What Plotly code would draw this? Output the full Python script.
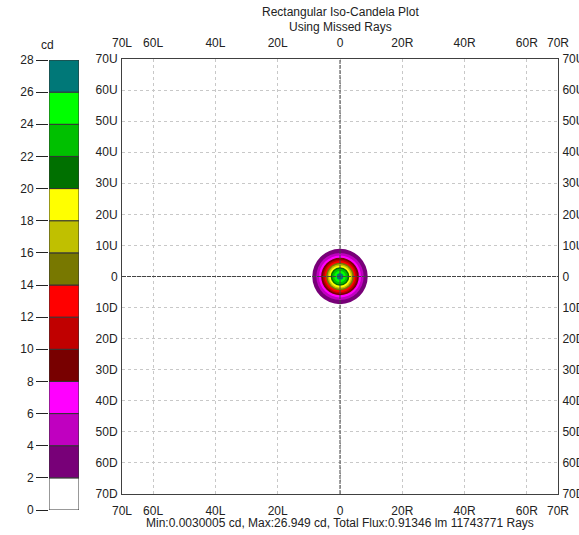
import plotly.graph_objects as go

# ---- data ----
band_levels = [0, 2, 4, 6, 8, 10, 12, 14, 16, 18, 20, 22, 24, 26]
band_colors = ["#FFFFFF", "#780078", "#C000C0", "#FF00FF", "#780000", "#C00000",
               "#FF0000", "#787800", "#C0C000", "#FFFF00", "#007000", "#00C000",
               "#00FF00", "#007878"]
# radius (deg) of the contour at which each band's lower level is reached
contour_levels = [2, 4, 6, 8, 10, 12, 14, 16, 18, 20, 22, 24, 26]
contour_radii = [8.9, 7.6, 6.75, 6.05, 5.45, 4.95, 4.45, 3.95, 3.5, 3.0, 2.5, 1.85, 1.05]

x_tickvals = [-70, -60, -40, -20, 0, 20, 40, 60, 70]
x_ticktext = ["70L", "60L", "40L", "20L", "0", "20R", "40R", "60R", "70R"]
y_tickvals = [-70, -60, -50, -40, -30, -20, -10, 0, 10, 20, 30, 40, 50, 60, 70]
y_ticktext = ["70D", "60D", "50D", "40D", "30D", "20D", "10D", "0",
              "10U", "20U", "30U", "40U", "50U", "60U", "70U"]
cbar_ticks = list(range(0, 29, 2))

W, H = 579, 535
FONT = "Liberation Sans, Arial, sans-serif"
TXT = "#222222"


def px(xs):
    return xs / W


def py(ys):
    return 1 - ys / H


fig = go.Figure()

# invisible traces to activate secondary axes
fig.add_trace(go.Scatter(x=[0], y=[0], mode="markers", marker=dict(opacity=0),
                         hoverinfo="skip", showlegend=False, xaxis="x", yaxis="y"))
fig.add_trace(go.Scatter(x=[0], y=[0], mode="markers", marker=dict(opacity=0),
                         hoverinfo="skip", showlegend=False, xaxis="x2", yaxis="y2"))

# colour bar as stacked bars
fig.add_trace(go.Bar(
    x=[0.5] * len(band_levels), y=[2] * len(band_levels), base=band_levels,
    width=1, marker=dict(color=band_colors, line=dict(color="#333333", width=1)),
    xaxis="x3", yaxis="y3", showlegend=False, hoverinfo="skip"))

shapes = []
for lvl, r in zip(contour_levels, contour_radii):
    col = band_colors[band_levels.index(lvl)]
    shapes.append(dict(type="circle", xref="x", yref="y", x0=-r, x1=r, y0=-r, y1=r,
                       fillcolor=col, line=dict(width=0), layer="above"))
# crosshair
shapes.append(dict(type="line", xref="x", yref="y", x0=-70, x1=70, y0=0, y1=0,
                   line=dict(color="#444444", width=1, dash="4px,1px"), layer="above"))
shapes.append(dict(type="line", xref="x", yref="y", x0=0, x1=0, y0=-70, y1=70,
                   line=dict(color="#444444", width=1, dash="4px,1px"), layer="above"))

xd = [px(122), px(558)]
yd = [py(494), py(59)]
NOTICK = "rgba(0,0,0,0)"
common_x = dict(range=[-70, 70], tickmode="array", tickvals=x_tickvals, ticktext=x_ticktext,
                tickfont=dict(family=FONT, size=12, color=TXT), zeroline=False,
                fixedrange=True, automargin=False, ticks="outside", ticklen=6,
                tickcolor=NOTICK)
common_y = dict(range=[-70, 70], tickmode="array", tickvals=y_tickvals, ticktext=y_ticktext,
                tickfont=dict(family=FONT, size=12, color=TXT), zeroline=False,
                fixedrange=True, automargin=False, ticks="outside", ticklen=1,
                tickcolor=NOTICK)

fig.update_layout(
    width=W, height=H, margin=dict(l=0, r=0, t=0, b=0, autoexpand=False),
    paper_bgcolor="white", plot_bgcolor="white", showlegend=False,
    barmode="overlay",
    xaxis=dict(domain=xd, side="bottom", anchor="y", showgrid=True, gridcolor="#c8c8c8",
               griddash="3px,3px", gridwidth=1, showline=True, linecolor="#404040",
               linewidth=1, mirror=True, **common_x),
    xaxis2=dict(domain=xd, side="top", overlaying="x", anchor="y", showgrid=False,
                showline=False, **common_x),
    yaxis=dict(domain=yd, side="left", anchor="x", showgrid=True, gridcolor="#c8c8c8",
               griddash="3px,3px", gridwidth=1, showline=True, linecolor="#404040",
               linewidth=1, mirror=True, **common_y),
    yaxis2=dict(domain=yd, side="right", overlaying="y", anchor="x", showgrid=False,
                showline=False, **common_y),
    xaxis3=dict(domain=[px(49), px(79)], range=[0, 1], anchor="y3", visible=False,
                fixedrange=True, automargin=False),
    yaxis3=dict(domain=[py(510), py(60)], range=[0, 28], anchor="x3",
                tickmode="array", tickvals=cbar_ticks, ticks="outside", ticklen=12,
                tickcolor="#222222", tickwidth=1, showgrid=False, zeroline=False,
                showline=False, tickfont=dict(family=FONT, size=12, color=TXT),
                fixedrange=True, automargin=False),
    shapes=shapes,
    annotations=[
        dict(text="Rectangular Iso-Candela Plot", x=px(340), y=py(12), xref="paper",
             yref="paper", showarrow=False, xanchor="center", yanchor="middle",
             font=dict(family=FONT, size=12, color=TXT)),
        dict(text="Using Missed Rays", x=px(340), y=py(27), xref="paper",
             yref="paper", showarrow=False, xanchor="center", yanchor="middle",
             font=dict(family=FONT, size=12, color=TXT)),
        dict(text="cd", x=px(47), y=py(45), xref="paper", yref="paper",
             showarrow=False, xanchor="center", yanchor="middle",
             font=dict(family=FONT, size=12, color=TXT)),
        dict(text="Min:0.0030005 cd, Max:26.949 cd, Total Flux:0.91346 lm 11743771 Rays",
             x=px(340), y=py(523), xref="paper", yref="paper", showarrow=False,
             xanchor="center", yanchor="middle",
             font=dict(family=FONT, size=12, color=TXT)),
    ],
)

fig.write_html("out.html",
               config={"displayModeBar": False},
               post_script="document.body.style.margin='0px';"
                           "document.body.style.overflow='hidden';")
